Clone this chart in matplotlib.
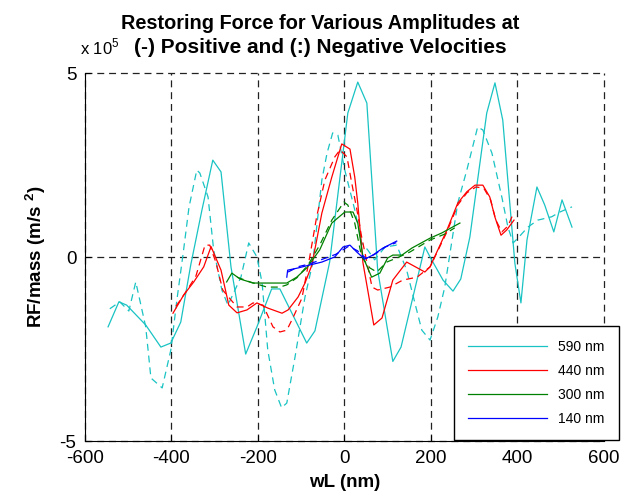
import numpy as np
import matplotlib
matplotlib.use("Agg")
import matplotlib.pyplot as plt

plt.rcParams["font.family"] = ["Liberation Sans", "DejaVu Sans"]
plt.rcParams["mathtext.fontset"] = "custom"
plt.rcParams["mathtext.rm"] = "Liberation Sans"
plt.rcParams["mathtext.bf"] = "Liberation Sans:bold"
plt.rcParams["axes.unicode_minus"] = False
plt.rcParams["lines.scale_dashes"] = False

# RF/mass in units of 1e5 m/s^2, wL in nm
# 590 nm
x590_pos = [-546, -521, -503, -459, -424, -401, -378, -355, -329, -304, -285, -262, -228, -202,
            -168, -149, -87, -68, -34, 8, 31, 52, 77, 112, 131, 186, 198, 228, 251, 269, 290,
            329, 348, 366, 394, 408, 422, 445, 463, 484, 503, 526]
y590_pos = [-1.89, -1.21, -1.30, -1.84, -2.44, -2.33, -1.76, -0.21, 1.29, 2.64, 2.32, -0.26, -2.63, -1.89,
            -0.86, -0.86, -2.33, -2.00, -0.13, 3.92, 4.76, 4.19, -0.35, -2.83, -2.44, 0.28, 0.01, -0.62, -0.92, -0.59, 0.55,
            3.92, 4.74, 3.73, -0.16, -1.24, 0.47, 1.91, 1.42, 0.69, 1.56, 0.82]
x590_neg = [-542, -519, -498, -482, -459, -447, -421, -401, -387, -373, -359, -341, -334, -315, -302,
            -283, -269, -239, -221, -202, -190, -177, -161, -145, -133, -114, -91, -73, -52, -40, -27,
            -15, 1, 24, 40, 54, 70, 94, 121, 144, 167, 179, 198, 216, 232, 262, 283, 308, 320, 341,
            364, 378, 390, 401, 424, 447, 479, 498, 526]
y590_neg = [-1.40, -1.21, -1.46, -0.67, -1.89, -3.28, -3.55, -2.52, -1.16, 0.06, 1.36, 2.37, 2.29, 1.64, 0.20,
            -0.89, -1.30, -0.54, 0.39, 0.01, -0.70, -2.52, -3.60, -4.09, -3.96, -2.71, -1.08, -0.15, 2.10, 2.83, 3.38,
            3.32, 2.37, 1.29, 0.39, 0.20, -0.07, 0.28, 0.33, -0.35, -1.43, -1.98, -2.25, -1.62, -0.81, 1.47, 2.37, 3.54, 3.46, 2.83,
            1.63, 0.82, 0.39, 0.52, 0.82, 1.01, 1.10, 1.23, 1.37]

# 440 nm
x440_pos = [-396, -371, -348, -325, -308, -285, -267, -248, -225, -202, -177, -144, -130, -107, -91,
            -75, -52, -29, -6, 13, 24, 31, 43, 54, 68, 87, 112, 144, 186, 198, 237, 262, 283, 302,
            320, 336, 348, 362, 375, 392]
y440_pos = [-1.52, -1.02, -0.67, -0.26, 0.29, -0.35, -1.30, -1.51, -1.43, -1.24, -1.38, -1.52, -1.43, -1.08, -0.70,
            -0.21, 1.20, 2.18, 3.08, 2.94, 2.18, 1.47, -0.15, -0.89, -1.84, -1.65, -0.62, -0.13, -0.40, -0.26, 0.74, 1.47, 1.78, 1.96,
            1.96, 1.64, 1.09, 0.60, 0.74, 1.01]
x440_neg = [-389, -366, -343, -322, -311, -297, -281, -262, -248, -225, -211, -188, -165, -149, -133,
            -119, -98, -80, -64, -45, -22, -10, 6, 17, 29, 40, 64, 77, 105, 135, 168, 198, 237, 262,
            283, 304, 322, 338, 350, 364, 378, 392]
y440_neg = [-1.33, -0.94, -0.51, 0.33, 0.33, -0.13, -0.89, -1.16, -1.35, -1.35, -1.24, -1.30, -1.89, -2.03, -1.98,
            -1.65, -1.11, 0.01, 1.10, 2.10, 2.73, 2.92, 2.73, 2.02, 1.29, 0.55, -0.81, -0.89, -0.81, -0.62, -0.54, -0.26, 0.69, 1.42,
            1.75, 1.91, 1.88, 1.56, 1.01, 0.69, 0.85, 1.23]

# 300 nm
x300_pos = [-272, -260, -241, -211, -179, -133, -110, -87, -57, -29, 1, 20, 31, 43, 63, 82, 100,
            112, 133, 156, 198, 225, 267]
y300_pos = [-0.67, -0.43, -0.59, -0.70, -0.70, -0.70, -0.54, -0.29, 0.20, 0.93, 1.23, 1.23, 0.93, 0.01, -0.54, -0.43, -0.02,
            0.06, 0.06, 0.25, 0.52, 0.66, 0.93]
x300_neg = [-248, -218, -179, -149, -133, -110, -84, -57, -29, -1, 8, 24, 40, 59, 75, 98, 121,
            151, 198, 232, 255]
y300_neg = [-0.54, -0.67, -0.81, -0.81, -0.75, -0.56, -0.21, 0.33, 1.01, 1.50, 1.42, 0.93, 0.01, -0.29, -0.40, -0.13, -0.02,
            0.14, 0.47, 0.63, 0.80]

# 140 nm
x140_pos = [-133, -131, -107, -80, -52, -22, -3, 13, 29, 47, 66, 89, 121]
y140_pos = [-0.54, -0.35, -0.29, -0.21, -0.13, 0.01, 0.28, 0.33, 0.14, -0.05, 0.06, 0.25, 0.44]
x140_neg = [-130, -105, -80, -50, -20, 10, 30, 50, 70, 95, 120]
y140_neg = [-0.40, -0.25, -0.18, -0.05, 0.08, 0.30, 0.18, -0.03, 0.08, 0.28, 0.40]

labels = ["590 nm", "440 nm", "300 nm", "140 nm"]
colors = ["#19C3C3", "#FF0000", "#008000", "#0000FF"]
pos_x = [x590_pos, x440_pos, x300_pos, x140_pos]
pos_y = [y590_pos, y440_pos, y300_pos, y140_pos]
neg_x = [x590_neg, x440_neg, x300_neg, x140_neg]
neg_y = [y590_neg, y440_neg, y300_neg, y140_neg]

fig = plt.figure(figsize=(6.34, 5.03), dpi=100)
ax = fig.add_axes([0.1336, 0.1227, 0.8191, 0.7316])

handles = []
for i in range(4):
    h, = ax.plot(pos_x[i], pos_y[i], color=colors[i], lw=0.9, label=labels[i])
    ax.plot(neg_x[i], neg_y[i], color=colors[i], lw=0.9, dashes=(5, 3.5))
    handles.append(h)

ax.set_xlim(-600, 600)
ax.set_ylim(-5, 5)
ax.set_xticks(np.arange(-600, 601, 200))
ax.set_yticks([-5, 0, 5])
ax.tick_params(direction="in", length=4, labelsize=13.5, pad=6)
ax.spines["top"].set_visible(False)
ax.spines["right"].set_visible(False)
ax.grid(True, color="#222222", lw=0.9, dashes=(5, 3.5))
ax.set_axisbelow(True)
for gl in ax.get_xgridlines() + ax.get_ygridlines():
    gl.set_clip_on(False)

ax.set_xlabel("wL (nm)", fontsize=13.5, fontweight="bold", labelpad=5)
ax.set_ylabel(r"RF/mass (m/s $\mathbf{^2}$)", fontsize=13.5, fontweight="bold", labelpad=8)

fig.text(0.505, 1 - 29 / 503, "Restoring Force for Various Amplitudes at",
         ha="center", va="baseline", fontsize=14.3, fontweight="bold")
fig.text(0.505, 1 - 53 / 503, "(-) Positive and (:) Negative Velocities",
         ha="center", va="baseline", fontsize=15, fontweight="bold")
fig.text(80 / 634, 1 - 54 / 503, r"x 10$^5$", ha="left", va="baseline", fontsize=12)

leg = ax.legend(handles=handles, loc="upper left", bbox_to_anchor=(454 / 634, 1 - 326 / 503),
                bbox_transform=fig.transFigure, fancybox=False, framealpha=1,
                edgecolor="black", fontsize=10, handlelength=5.7, handletextpad=0.8,
                labelspacing=0.72, borderpad=1.0, borderaxespad=0)
leg.get_frame().set_linewidth(1.0)

fig.savefig("out.png", dpi=100)
